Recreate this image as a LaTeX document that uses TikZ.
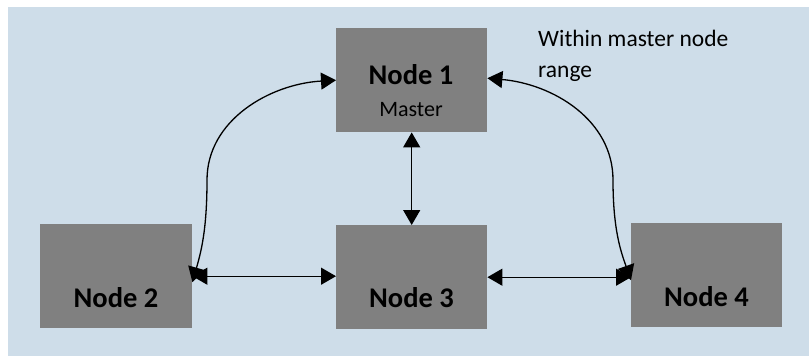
\documentclass[tikz,border=0pt]{standalone}
\usepackage{fontspec}
\setmainfont{Carlito}
\usetikzlibrary{arrows.meta}
\definecolor{bgblue}{HTML}{CEDDE9}
\definecolor{boxgray}{HTML}{808080}
\tikzset{
  box/.style={fill=boxgray, draw=none, inner sep=0pt, minimum width=151bp, minimum height=104bp, anchor=north west},
  bigtxt/.style={font=\fontsize{28.5bp}{34bp}\selectfont\bfseries, inner sep=0pt, anchor=base},
  subtxt/.style={font=\fontsize{22bp}{26bp}\selectfont, inner sep=0pt, anchor=base},
  notetxt/.style={font=\fontsize{23.5bp}{30.7bp}\selectfont, inner sep=0pt, anchor=base west, align=left},
  link/.style={line width=1.3bp, {Triangle[length=15bp,width=17bp]}-{Triangle[length=15bp,width=17bp]}}
}
\begin{document}
\begin{tikzpicture}[x=1bp,y=-1bp]
\useasboundingbox (0,0) rectangle (809,356);
\fill[bgblue] (8,7) rectangle (809,356);
% boxes
\node[box, minimum width=151bp, minimum height=104bp] (n1) at (336,28) {};
\node[box, minimum width=152bp, minimum height=104bp] (n2) at (40,224) {};
\node[box, minimum width=151bp, minimum height=104bp] (n3) at (336,225) {};
\node[box, minimum width=151bp, minimum height=104bp] (n4) at (631,223) {};
% texts
\node[bigtxt] (t1) at (411,84) {Node 1};
\node[subtxt] (t1m) at (411,116) {Master};
\node[bigtxt] (t2) at (116,307) {Node 2};
\node[bigtxt] (t3) at (411.5,307) {Node 3};
\node[bigtxt] (t4) at (706.5,306) {Node 4};
\node[notetxt] (note) at (538,77) {Within master node\\range};
% connectors
\draw[link] (n1.south) -- (n3.north);
\draw[link] (n2.east) -- (n2.east -| n3.west);
\draw[link] (n3.east) -- (n3.east -| n4.west);
\draw[link] ([yshift=-6bp]n2.east) .. controls (201,252) and (207,230) .. (207,180)
  .. controls (207,120) and (270,84) .. (n1.west);
\draw[link] ([yshift=-5bp]n4.west) .. controls (621,252) and (613,230) .. (613,180)
  .. controls (613,120) and (553,84) .. ([yshift=2bp]n1.east);
\end{tikzpicture}
\end{document}
